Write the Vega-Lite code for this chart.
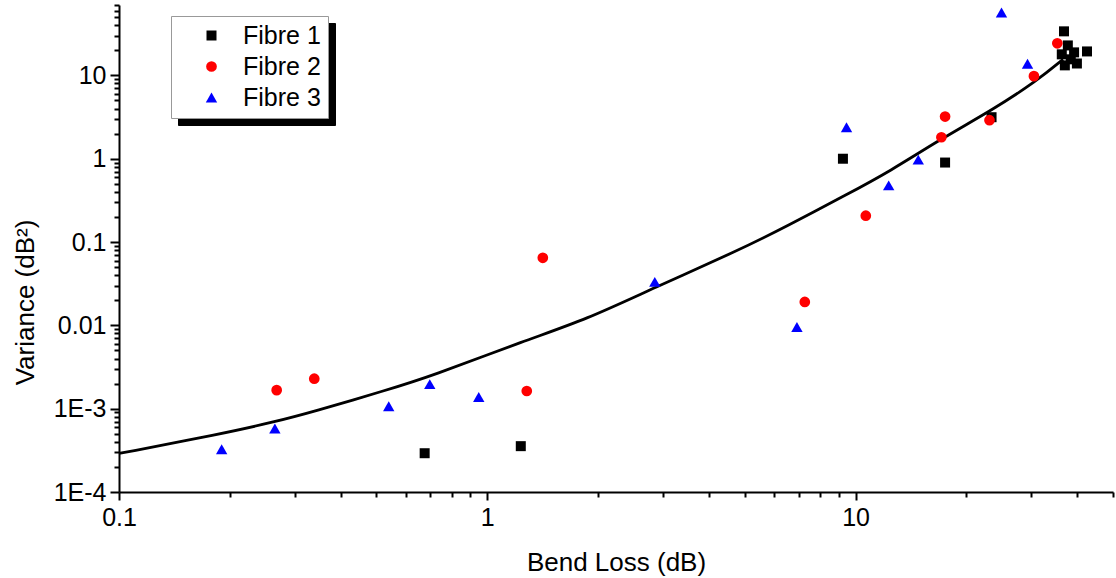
{
  "$schema": "https://vega.github.io/schema/vega-lite/v6.json",
  "width": 994,
  "height": 487,
  "autosize": "none",
  "padding": {"left": 119, "top": 5, "right": 3, "bottom": 86},
  "background": "white",
  "config": {
    "view": {"stroke": null},
    "font": "Liberation Sans",
    "axis": {"grid": false, "domainColor": "black", "domainWidth": 2, "tickColor": "black", "tickWidth": 2, "labelColor": "black", "labelFont": "Liberation Sans", "labelFontSize": 25, "titleFont": "Liberation Sans", "titleFontSize": 26, "titleFontWeight": "normal", "titleColor": "black", "labelFlush": false, "labelOverlap": false}
  },
  "datasets": {
    "points": [
      {"Fibre": "Fibre 1", "loss": 0.676, "variance": 0.000292},
      {"Fibre": "Fibre 1", "loss": 1.233, "variance": 0.000355},
      {"Fibre": "Fibre 1", "loss": 9.24, "variance": 1.0},
      {"Fibre": "Fibre 1", "loss": 17.5, "variance": 0.9},
      {"Fibre": "Fibre 1", "loss": 23.4, "variance": 3.15},
      {"Fibre": "Fibre 1", "loss": 36.8, "variance": 33.8},
      {"Fibre": "Fibre 1", "loss": 37.7, "variance": 22.9},
      {"Fibre": "Fibre 1", "loss": 36.3, "variance": 17.9},
      {"Fibre": "Fibre 1", "loss": 39.2, "variance": 18.9},
      {"Fibre": "Fibre 1", "loss": 42.5, "variance": 19.4},
      {"Fibre": "Fibre 1", "loss": 37.0, "variance": 13.2},
      {"Fibre": "Fibre 1", "loss": 39.9, "variance": 13.9},
      {"Fibre": "Fibre 1", "loss": 38.4, "variance": 15.6},
      {"Fibre": "Fibre 2", "loss": 0.268, "variance": 0.00167},
      {"Fibre": "Fibre 2", "loss": 0.339, "variance": 0.00229},
      {"Fibre": "Fibre 2", "loss": 1.28, "variance": 0.00163},
      {"Fibre": "Fibre 2", "loss": 1.415, "variance": 0.0647},
      {"Fibre": "Fibre 2", "loss": 7.28, "variance": 0.0191},
      {"Fibre": "Fibre 2", "loss": 10.66, "variance": 0.207},
      {"Fibre": "Fibre 2", "loss": 17.1, "variance": 1.81},
      {"Fibre": "Fibre 2", "loss": 17.5, "variance": 3.21},
      {"Fibre": "Fibre 2", "loss": 23.1, "variance": 2.9},
      {"Fibre": "Fibre 2", "loss": 30.5, "variance": 9.8},
      {"Fibre": "Fibre 2", "loss": 35.3, "variance": 24.3},
      {"Fibre": "Fibre 3", "loss": 0.19, "variance": 0.000326},
      {"Fibre": "Fibre 3", "loss": 0.265, "variance": 0.000579},
      {"Fibre": "Fibre 3", "loss": 0.54, "variance": 0.00107},
      {"Fibre": "Fibre 3", "loss": 0.698, "variance": 0.00197},
      {"Fibre": "Fibre 3", "loss": 0.948, "variance": 0.00138},
      {"Fibre": "Fibre 3", "loss": 2.85, "variance": 0.0333},
      {"Fibre": "Fibre 3", "loss": 6.93, "variance": 0.00957},
      {"Fibre": "Fibre 3", "loss": 9.45, "variance": 2.39},
      {"Fibre": "Fibre 3", "loss": 12.3, "variance": 0.479},
      {"Fibre": "Fibre 3", "loss": 14.8, "variance": 0.977},
      {"Fibre": "Fibre 3", "loss": 24.9, "variance": 56.8},
      {"Fibre": "Fibre 3", "loss": 29.3, "variance": 13.8}
    ],
    "fit": [
      {"loss": 0.1, "variance": 0.00029},
      {"loss": 0.1877, "variance": 0.000494},
      {"loss": 0.265, "variance": 0.000695},
      {"loss": 0.3364, "variance": 0.000917},
      {"loss": 0.532, "variance": 0.00167},
      {"loss": 0.698, "variance": 0.00242},
      {"loss": 1.278, "variance": 0.00668},
      {"loss": 1.859, "variance": 0.0118},
      {"loss": 2.82, "variance": 0.02796},
      {"loss": 4.85, "variance": 0.0807},
      {"loss": 6.49, "variance": 0.154},
      {"loss": 9.45, "variance": 0.37},
      {"loss": 12.39, "variance": 0.706},
      {"loss": 16.94, "variance": 1.7},
      {"loss": 23.64, "variance": 3.9},
      {"loss": 31.0, "variance": 8.54},
      {"loss": 36.6, "variance": 15.6}
    ]
  },
  "encoding": {
    "x": {
      "field": "loss", "type": "quantitative",
      "scale": {"type": "log", "domain": [0.1, 50], "nice": false},
      "axis": {
        "title": "Bend Loss (dB)",
        "values": [0.1, 0.2, 0.3, 0.4, 0.5, 0.6, 0.7, 0.8, 0.9, 1, 2, 3, 4, 5, 6, 7, 8, 9, 10, 20, 30, 40, 50],
        "labelExpr": "datum.value === 0.1 ? '0.1' : datum.value === 1 ? '1' : datum.value === 10 ? '10' : ''",
        "tickSize": {"condition": {"test": "datum.value === 0.1 || datum.value === 1 || datum.value === 10", "value": 8}, "value": 5},
        "labelPadding": 5,
        "titleBaseline": "alphabetic",
        "titleY": 78
      }
    },
    "y": {
      "field": "variance", "type": "quantitative",
      "scale": {"type": "log", "domain": [0.0001, 70], "nice": false},
      "axis": {
        "title": "Variance (dB²)",
        "values": [0.0001, 0.0002, 0.0003, 0.0004, 0.0005, 0.0006, 0.0007, 0.0008, 0.0009, 0.001, 0.002, 0.003, 0.004, 0.005, 0.006, 0.007, 0.008, 0.009, 0.01, 0.02, 0.03, 0.04, 0.05, 0.06, 0.07, 0.08, 0.09, 0.1, 0.2, 0.3, 0.4, 0.5, 0.6, 0.7, 0.8, 0.9, 1, 2, 3, 4, 5, 6, 7, 8, 9, 10, 20, 30, 40, 50, 60, 70],
        "labelExpr": "datum.value === 0.0001 ? '1E-4' : datum.value === 0.001 ? '1E-3' : datum.value === 0.01 ? '0.01' : datum.value === 0.1 ? '0.1' : datum.value === 1 ? '1' : datum.value === 10 ? '10' : ''",
        "tickSize": {"condition": {"test": "datum.value === 0.0001 || datum.value === 0.001 || datum.value === 0.01 || datum.value === 0.1 || datum.value === 1 || datum.value === 10", "value": 9}, "value": 5},
        "labelPadding": 4,
        "titleBaseline": "alphabetic",
        "titleX": -86,
        "titleY": 297
      }
    }
  },
  "layer": [
    {
      "data": {"name": "fit"},
      "mark": {"type": "line", "color": "black", "strokeWidth": 2.8, "interpolate": "basis"},
      "encoding": {}
    },
    {
      "data": {"name": "points"},
      "mark": {"type": "point", "filled": true, "opacity": 1, "strokeWidth": 0},
      "encoding": {
        "color": {
          "field": "Fibre", "type": "nominal",
          "scale": {"domain": ["Fibre 1", "Fibre 2", "Fibre 3"], "range": ["#000000", "#ff0000", "#0000ff"]},
          "legend": {"title": null, "orient": "none", "legendX": 52, "legendY": 11, "zindex": 2, "fillColor": "white", "strokeColor": "#999999", "padding": 7, "rowPadding": 5, "symbolOffset": 21, "labelOffset": 19, "labelFont": "Liberation Sans", "labelFontSize": 25, "labelColor": "black", "symbolSize": 100, "symbolStrokeWidth": 0}
        },
        "shape": {
          "field": "Fibre", "type": "nominal",
          "scale": {"domain": ["Fibre 1", "Fibre 2", "Fibre 3"], "range": ["square", "circle", "triangle-up"]},
          "legend": {"title": null, "orient": "none", "legendX": 52, "legendY": 11, "zindex": 2, "fillColor": "white", "strokeColor": "#999999", "padding": 7, "rowPadding": 5, "symbolOffset": 21, "labelOffset": 19, "labelFont": "Liberation Sans", "labelFontSize": 25, "labelColor": "black", "symbolSize": 100, "symbolStrokeWidth": 0}
        },
        "size": {
          "field": "Fibre", "type": "nominal",
          "scale": {"domain": ["Fibre 1", "Fibre 2", "Fibre 3"], "range": [100, 130, 175]},
          "legend": null
        },
        "opacity": {
          "field": "Fibre", "type": "nominal",
          "scale": {"range": [1, 1, 1]},
          "legend": {"title": null, "orient": "none", "legendX": 59, "legendY": 18, "zindex": 1, "fillColor": "black", "strokeColor": "black", "padding": 7, "rowPadding": 5, "symbolOffset": 21, "labelOffset": 97, "labelFont": "Liberation Sans", "labelFontSize": 25, "labelColor": "black", "symbolSize": 100, "symbolFillColor": "black", "symbolStrokeColor": "black", "symbolType": "square", "labelExpr": "'\u00a0'"}
        }
      }
    }
  ]
}
